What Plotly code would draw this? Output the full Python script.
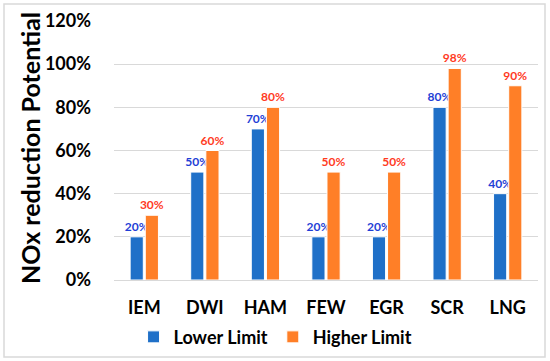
import plotly.graph_objects as go

categories = ["IEM", "DWI", "HAM", "FEW", "EGR", "SCR", "LNG"]
lower_limit = [0.20, 0.50, 0.70, 0.20, 0.20, 0.80, 0.40]
higher_limit = [0.30, 0.60, 0.80, 0.50, 0.50, 0.98, 0.90]
y_ticks = [0, 0.2, 0.4, 0.6, 0.8, 1.0, 1.2]
y_tick_labels = ["0%", "20%", "40%", "60%", "80%", "100%", "120%"]

FONT = "Lato"
fig = go.Figure()
fig.add_trace(go.Bar(
    name="Lower Limit", x=categories, y=lower_limit,
    marker=dict(color="#1F70C8", line=dict(color="white", width=1)),
    text=[f"{v*100:.0f}%" for v in lower_limit], textposition="outside",
    textfont=dict(family=FONT, size=12, color="#1F3FD6", weight="bold"),
    constraintext="none", cliponaxis=False,
))
fig.add_trace(go.Bar(
    name="Higher Limit", x=categories, y=higher_limit,
    marker=dict(color="#FF7F27", line=dict(color="white", width=1)),
    text=[f"{v*100:.0f}%" for v in higher_limit], textposition="outside",
    textfont=dict(family=FONT, size=12, color="#FF3B1F", weight="bold"),
    constraintext="none", cliponaxis=False,
))

l, r, t, b = 114, 12, 21, 81
W, H = 550, 361
pw, ph = W - l - r, H - t - b
fig.add_shape(type="rect", xref="paper", yref="paper",
              x0=(4 - l) / pw, x1=(545 - l) / pw,
              y0=(H - b - 357) / ph, y1=(H - b - 4) / ph,
              line=dict(color="#D9D9D9", width=1.5), layer="below")
fig.add_annotation(text="NOx reduction Potential", textangle=-90,
                   xref="paper", yref="paper", x=(30 - l) / pw, y=0.51,
                   xanchor="center", yanchor="middle", showarrow=False,
                   font=dict(family=FONT, size=25, weight="bold", color="black"))

fig.update_layout(
    width=W, height=H,
    margin=dict(l=l, r=r, t=t, b=b, autoexpand=False),
    paper_bgcolor="white", plot_bgcolor="white",
    barmode="group", bargap=0.5, bargroupgap=0.13,
    font=dict(family=FONT, color="black"),
    showlegend=True,
    legend=dict(orientation="h", xref="container", x=0.501, xanchor="center",
                yref="container", y=0.066, yanchor="middle",
                bgcolor="rgba(0,0,0,0)",
                font=dict(family=FONT, size=18, weight="bold"),
                itemwidth=30, traceorder="normal"),
    xaxis=dict(showline=True, linecolor="#D9D9D9", ticks="", automargin=False,
               tickfont=dict(family=FONT, size=18, weight="bold"),
               ticklabelstandoff=11),
    yaxis=dict(range=[0, 1.2], tickvals=y_ticks, ticktext=y_tick_labels,
               showgrid=True, gridcolor="#D9D9D9", gridwidth=1, automargin=False,
               zeroline=False, showline=False, ticks="",
               tickfont=dict(family=FONT, size=18, weight="bold"),
               ticklabelstandoff=22),
)
fig.write_html("out.html", config={"displayModeBar": False},
               post_script="document.body.style.margin='0';")
